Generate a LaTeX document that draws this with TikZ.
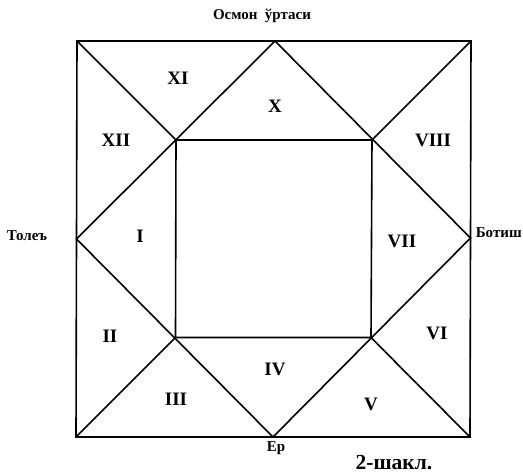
\documentclass[tikz,border=0pt]{standalone}
\usepackage{fontspec}
\setmainfont{Liberation Serif}
\begin{document}
\begin{tikzpicture}[x=1pt,y=-1pt,line width=1.6pt,
  lbl/.style={font=\bfseries\fontsize{19}{20}\selectfont,inner sep=0pt},
  captxt/.style={font=\bfseries\fontsize{15}{17}\selectfont,inner sep=0pt},
  ttl/.style={font=\bfseries\fontsize{21.5}{23}\selectfont,inner sep=0pt}]
\useasboundingbox (0,0) rectangle (523,474);
% outer corners
\coordinate (TL) at (77,41);
\coordinate (TR) at (471,41);
\coordinate (BR) at (470,437);
\coordinate (BL) at (76,437);
% midpoints
\coordinate (T) at (275,41);
\coordinate (L) at (76.5,239);
\coordinate (R) at (470.5,238);
\coordinate (B) at (273,437);
% inner corners
\coordinate (iTL) at (176,140);
\coordinate (iTR) at (372,140);
\coordinate (iBR) at (371,337.5);
\coordinate (iBL) at (175.5,337.5);
\draw (TL) -- (TR) -- (BR) -- (BL) -- cycle;
\draw (iTL) -- (iTR) -- (iBR) -- (iBL) -- cycle;
\draw (T) -- (L) -- (B) -- (R) -- cycle;
\draw (TL) -- (iTL);
\draw (TR) -- (iTR);
\draw (BR) -- (iBR);
\draw (BL) -- (iBL);
% house labels
\node[lbl] (h11) at (178,78) {XI};
\node[lbl] (h10) at (275,106) {X};
\node[lbl] (h12) at (116,140.5) {XII};
\node[lbl] (h8) at (433,140.5) {VIII};
\node[lbl] (h1) at (140,236) {I};
\node[lbl] (h7) at (402,241) {VII};
\node[lbl] (h2) at (110,336) {II};
\node[lbl] (h6) at (437,333) {VI};
\node[lbl] (h3) at (176,399) {III};
\node[lbl] (h4) at (275,369) {IV};
\node[lbl] (h5) at (371,404.5) {V};
% captions
\node[captxt] (top) at (262,15.5) {Осмон\ \ ўртаси};
\node[captxt] (west) at (27,236) {Толеъ};
\node[captxt,anchor=west] (east) at (475,233) {Ботиш};
\node[captxt] (south) at (276,448) {Ер};
\node[ttl] (fig) at (394,463) {2-шакл.};
\end{tikzpicture}
\end{document}
